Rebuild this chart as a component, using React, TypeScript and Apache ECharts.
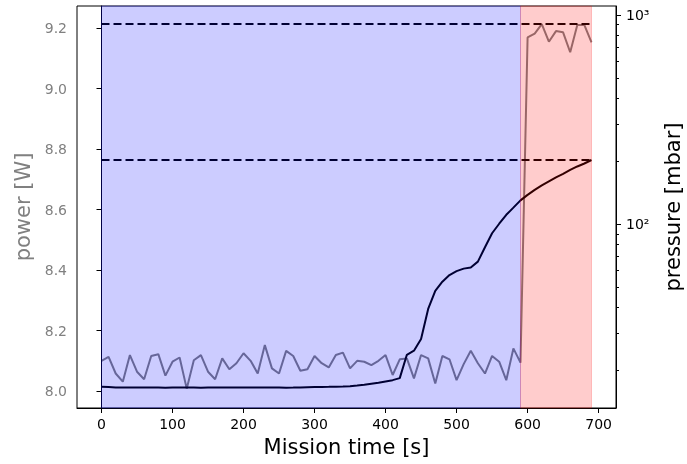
import React, { useEffect, useRef } from "react";
import * as echarts from "echarts";

const times: number[] = [];
for (let t = 0; t <= 690; t += 10) times.push(t);

const powerValues = [
  8.100, 8.113, 8.058, 8.031, 8.119, 8.064, 8.039, 8.116, 8.122, 8.051,
  8.097, 8.111, 8.008, 8.102, 8.119, 8.064, 8.039, 8.108, 8.072, 8.092,
  8.125, 8.100, 8.058, 8.152, 8.075, 8.058, 8.133, 8.116, 8.067, 8.072,
  8.116, 8.092, 8.078, 8.119, 8.127, 8.075, 8.100, 8.097, 8.086, 8.100,
  8.119, 8.053, 8.105, 8.108, 8.042, 8.119, 8.108, 8.025, 8.116, 8.105,
  8.036, 8.089, 8.133, 8.092, 8.058, 8.116, 8.097, 8.036, 8.141, 8.094,
  9.169, 9.182, 9.213, 9.155, 9.190, 9.186, 9.120, 9.210, 9.210, 9.153,
];

const pressureValues = [
  16.74, 16.68, 16.62, 16.6, 16.6, 16.62, 16.62, 16.6, 16.58, 16.55,
  16.58, 16.6, 16.62, 16.6, 16.56, 16.6, 16.62, 16.6, 16.62, 16.6,
  16.62, 16.6, 16.58, 16.6, 16.62, 16.6, 16.56, 16.58, 16.62, 16.65,
  16.68, 16.7, 16.72, 16.75, 16.78, 16.82, 16.95, 17.1, 17.3, 17.5,
  17.75, 18.0, 18.4, 23.8, 24.9, 28.3, 39.4, 48.1, 53.2, 57.2,
  59.7, 61.4, 62.2, 66.3, 77.7, 90.6, 100.6, 111.0, 120.1, 130.1,
  138.2, 146.0, 153.4, 160.3, 167.4, 174.0, 181.8, 188.9, 195.2, 202.8,
];

const xTicks = [0, 100, 200, 300, 400, 500, 600, 700];
const powerTicks = [8.0, 8.2, 8.4, 8.6, 8.8, 9.0, 9.2];
const pressureMajorTicks = [100, 1000];
const pressureMinorTicks = [20, 30, 40, 50, 60, 70, 80, 90, 200, 300, 400, 500, 600, 700, 800, 900];

const phaseBlue = [0, 590];
const phaseRed = [590, 690];

const xMin = -34.5, xMax = 724.5;
const powerMin = 7.944, powerMax = 9.273;
const pressureMin = 13.25, pressureMax = 1104;

export default function App() {
  const ref = useRef<HTMLDivElement>(null);
  useEffect(() => {
    if (!ref.current) return;
    const chart = echarts.init(ref.current, undefined, { renderer: "svg" });
    const powerData = times.map((t, i) => [t, powerValues[i]]);
    const pressureData = times.map((t, i) => [t, pressureValues[i]]);
    const maxPower = Math.max(...powerValues);
    const maxPressure = Math.max(...pressureValues);
    const font = "DejaVu Sans";
    const dashed = { color: "#000", width: 2, type: [8, 4] as any };
    chart.setOption({
      animation: false,
      textStyle: { fontFamily: font },
      grid: {
        left: 77, right: 71, top: 6, bottom: 56,
        outerBoundsMode: "none",
        containLabel: false,
        show: true, borderColor: "#000", borderWidth: 1, backgroundColor: "transparent",
      },
      xAxis: {
        type: "value",
        min: xMin,
        max: xMax,
        axisLine: { show: true, lineStyle: { color: "#000", width: 1 } },
        axisTick: { show: true, customValues: xTicks, length: 5, lineStyle: { color: "#000" } },
        axisLabel: { customValues: xTicks, color: "#000", fontSize: 14, margin: 9, fontFamily: font },
        splitLine: { show: false },
        name: "Mission time [s]",
        nameLocation: "middle",
        nameGap: 28,
        nameTextStyle: { fontSize: 21, color: "#000", fontFamily: font },
      },
      yAxis: [
        {
          type: "value",
          min: powerMin,
          max: powerMax,
          position: "left",
          axisLine: { show: true, lineStyle: { color: "#000", width: 1 } },
          axisTick: { show: true, customValues: powerTicks, length: 5, lineStyle: { color: "#000" } },
          axisLabel: { customValues: powerTicks, color: "#808080", fontSize: 14, margin: 10, fontFamily: font, formatter: (v: number) => v.toFixed(1) },
          splitLine: { show: false },
          name: "power [W]",
          nameLocation: "middle",
          nameRotate: 90,
          nameGap: 38,
          nameTextStyle: { fontSize: 21, color: "#808080", fontFamily: font },
        },
        {
          type: "log",
          logBase: 10,
          min: pressureMin,
          max: pressureMax,
          position: "right",
          axisLine: { show: true, lineStyle: { color: "#000", width: 1 } },
          axisTick: { show: true, customValues: pressureMajorTicks, length: 5, lineStyle: { color: "#000" } },
          axisLabel: {
            customValues: pressureMajorTicks,
            color: "#000",
            fontSize: 14,
            margin: 10,
            fontFamily: font,
            formatter: (v: number) => (Math.round(v) === 100 ? "10²" : "10³"),
          },
          splitLine: { show: false },
          name: "pressure [mbar]",
          nameLocation: "middle",
          nameRotate: 90,
          nameGap: 46,
          nameTextStyle: { fontSize: 21, color: "#000", fontFamily: font },
        },
        {
          type: "log",
          logBase: 10,
          min: pressureMin,
          max: pressureMax,
          position: "right",
          axisLine: { show: false },
          axisTick: { show: true, customValues: pressureMinorTicks, length: 3, lineStyle: { color: "#000" } },
          axisLabel: { show: false },
          splitLine: { show: false },
        },
      ],
      series: [
        {
          type: "line",
          xAxisIndex: 0,
          yAxisIndex: 0,
          data: powerData,
          showSymbol: false,
          symbol: "none",
          lineStyle: { color: "rgba(0,0,0,0.5)", width: 2 },
          itemStyle: { color: "rgba(0,0,0,0.5)" },
          z: 2,
          markLine: {
            silent: true,
            symbol: "none",
            label: { show: false },
            lineStyle: dashed,
            data: [[{ coord: [times[0], maxPower] }, { coord: [times[times.length - 1], maxPower] }]],
          },
        },
        {
          type: "line",
          xAxisIndex: 0,
          yAxisIndex: 1,
          data: pressureData,
          showSymbol: false,
          symbol: "none",
          lineStyle: { color: "#000", width: 2 },
          itemStyle: { color: "#000" },
          z: 2,
          markLine: {
            silent: true,
            symbol: "none",
            label: { show: false },
            lineStyle: dashed,
            data: [[{ coord: [times[0], maxPressure] }, { coord: [times[times.length - 1], maxPressure] }]],
          },
        },
        {
          type: "line",
          xAxisIndex: 0,
          yAxisIndex: 0,
          data: powerData,
          showSymbol: false,
          symbol: "none",
          silent: true,
          lineStyle: { opacity: 0, width: 0 },
          z: 10,
          markArea: {
            silent: true,
            z: 10,
            data: [
              [
                { xAxis: phaseBlue[0], itemStyle: { color: "rgba(0,0,255,0.2)", borderColor: "rgba(0,0,255,0.2)", borderWidth: 1 } },
                { xAxis: phaseBlue[1] },
              ],
              [
                { xAxis: phaseRed[0], itemStyle: { color: "rgba(255,0,0,0.2)", borderColor: "rgba(255,0,0,0.2)", borderWidth: 1 } },
                { xAxis: phaseRed[1] },
              ],
            ],
          },
        },
      ],
    });
    return () => chart.dispose();
  }, []);
  return <div ref={ref} style={{ position: "fixed", left: 0, top: 0, width: 687, height: 464 }} />;
}
